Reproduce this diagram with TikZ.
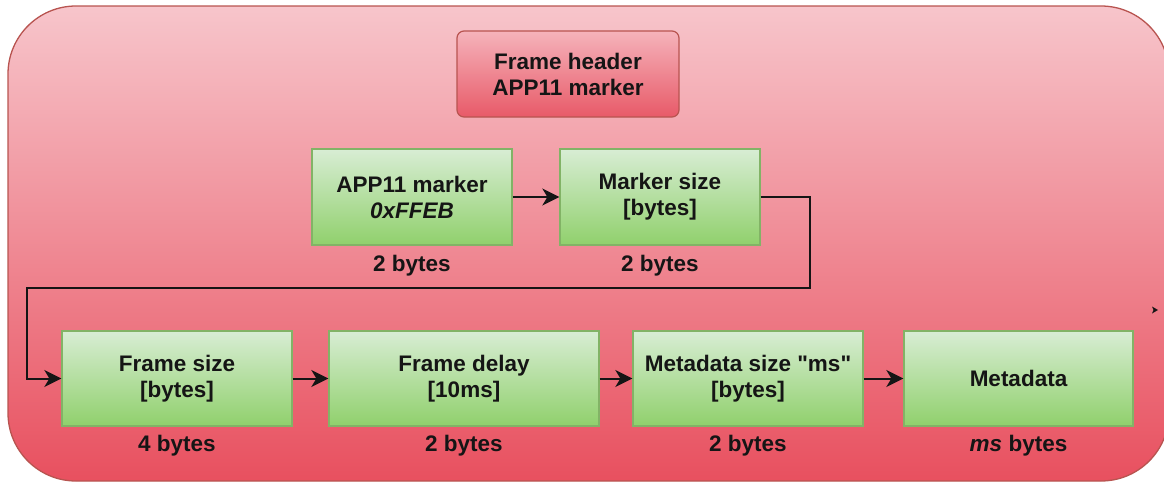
\documentclass[tikz,border=0pt]{standalone}
\usepackage{fontspec}
\setmainfont{Liberation Sans}[Ligatures=TeXOff]
\usetikzlibrary{arrows.meta,calc}

\definecolor{frameStroke}{HTML}{B85450}
\definecolor{frameTop}{HTML}{F7C5CB}
\definecolor{frameBottom}{HTML}{E8505F}
\definecolor{hdrTop}{HTML}{F5B3BB}
\definecolor{hdrBottom}{HTML}{E85A68}
\definecolor{fieldStroke}{HTML}{82B366}
\definecolor{fieldTop}{HTML}{D8EDD4}
\definecolor{fieldBottom}{HTML}{90D06C}
\definecolor{ink}{HTML}{151515}

\tikzset{
  boxfont/.style={font=\bfseries\fontsize{22.5}{26}\selectfont, text=ink, align=center},
  header/.style={boxfont, draw=frameStroke, line width=1.2pt, rounded corners=7pt,
    top color=hdrTop, bottom color=hdrBottom, minimum width=222pt, minimum height=86pt, inner sep=0pt},
  field/.style={boxfont, draw=fieldStroke, line width=1.3pt,
    top color=fieldTop, bottom color=fieldBottom, minimum height=95pt, inner sep=0pt},
  sizelbl/.style={boxfont},
  conn/.style={draw=ink, line width=2pt, -{Stealth[length=17pt,width=17pt,inset=5pt]}},
}

\begin{document}
\begin{tikzpicture}[x=1pt,y=-1pt]
  \useasboundingbox (0,0) rectangle (1164,482);
  \clip (0,0) rectangle (1164,482);

  % outer container
  \path[draw=frameStroke, line width=1.3pt, rounded corners=68pt,
        top color=frameTop, bottom color=frameBottom]
    (8,6) rectangle (1169,481);

  % title
  \node[header] (hdr) at (568,74) {Frame header\\APP11 marker};

  % first row of fields
  \node[field, minimum width=200pt, minimum height=96pt] (app) at (412,197) {APP11 marker\\\textit{0xFFEB}};
  \node[field, minimum width=200pt, minimum height=96pt] (msz) at (660,197) {Marker size\\{[}bytes{]}};

  % second row of fields
  \node[field, minimum width=230pt] (fsz) at (177,378.5) {Frame size\\{[}bytes{]}};
  \node[field, minimum width=270pt] (fdl) at (464,378.5) {Frame delay\\{[}10ms{]}};
  \node[field, minimum width=230pt] (mds) at (748,378.5) {Metadata size "ms"\\{[}bytes{]}};
  \node[field, minimum width=229pt] (met) at (1018.5,378.5) {Metadata};

  % sizes below the fields
  \node[sizelbl] (appL) at ($(app.south)+(0,20)$) {2 bytes};
  \node[sizelbl] (mszL) at ($(msz.south)+(0,20)$) {2 bytes};
  \node[sizelbl] (fszL) at ($(fsz.south)+(0,19)$) {4 bytes};
  \node[sizelbl] (fdlL) at ($(fdl.south)+(0,19)$) {2 bytes};
  \node[sizelbl] (mdsL) at ($(mds.south)+(0,19)$) {2 bytes};
  \node[sizelbl] (metL) at ($(met.south)+(0,19)$) {\textit{ms} bytes};

  % connectors
  \coordinate (b1) at (810,288);
  \coordinate (b2) at (27,288);
  \draw[conn] (app.east) -- (msz.east -| msz.west);
  \draw[conn] (msz.east) -| (b1) -- (b2) |- (fsz.west);
  \draw[conn] (fsz.east) -- (fdl.west);
  \draw[conn] (fdl.east) -- (mds.west);
  \draw[conn] (mds.east) -- (met.west);

  % small loose arrow tip at the right
  \fill[ink] (1152,306.5) -- (1158,310) -- (1152,313.5) -- (1153.5,310) -- cycle;
\end{tikzpicture}
\end{document}
